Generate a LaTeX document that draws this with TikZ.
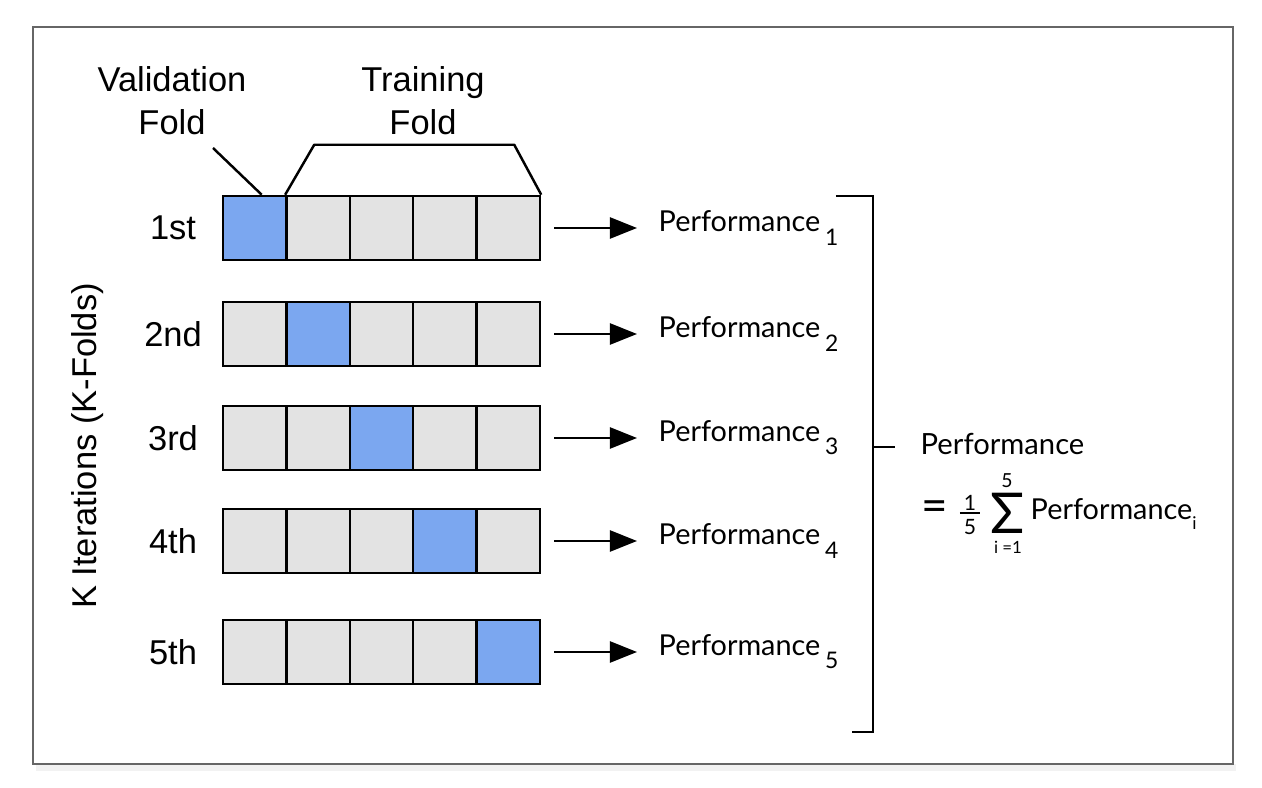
\documentclass[tikz,border=0pt]{standalone}
\usepackage{fontspec}
\setmainfont{Liberation Sans}
\newfontfamily\perffont{Lato}
\usetikzlibrary{arrows.meta}

\definecolor{valblue}{RGB}{123,167,240}
\definecolor{traingray}{RGB}{227,227,227}
\definecolor{framegray}{RGB}{102,102,102}

\tikzset{
	cell/.style={draw=black, line width=0.7pt, fill=traingray, minimum width=0.634cm, minimum height=0.64cm, inner sep=0pt},
	lbl/.style={font=\fontsize{9.8}{12.2}\selectfont, inner sep=0pt},
	perf/.style={font=\perffont\fontsize{8.2}{10}\selectfont, inner sep=0pt, anchor=west},
	tiny num/.style={font=\perffont\fontsize{6}{6}\selectfont, inner sep=0pt},
	res/.style={line width=0.7pt, -{Triangle[length=0.27cm, width=0.21cm]}, shorten <=0.13cm, shorten >=0.21cm},
}

\begin{document}
\begin{tikzpicture}[x=0.01cm, y=-0.01cm]
			\useasboundingbox (0,0) rectangle (1262,788);
			\fill [black!5] (36,764) rectangle (1236,771);
			\draw [framegray, line width=0.6pt, fill=white] (33,27) rectangle (1233,764);
			% the five iterations
			\foreach \r/\name/\y in {1/1st/228, 2/2nd/334, 3/3rd/438, 4/4th/541, 5/5th/652} {
				\node [lbl] (k\r) at (173,\y) {\name};
				\foreach \c in {1,...,5} {
					\ifnum\c=\r \def\fc{valblue}\else\def\fc{traingray}\fi
					\node [cell, fill=\fc] (c\r\c) at ({191.3+63.4*\c},\y) {};
				}
				\node [perf] (p\r) at (658,\y) {Performance\,\raisebox{-0.9ex}{\fontsize{6.5}{7}\selectfont\r}};
				\draw [res] (c\r5.east) -- (p\r.west);
			}
			% fold labels
			\node [lbl, align=center] (vfold) at (172,101) {Validation\\Fold};
			\node [lbl, align=center] (tfold) at (423,101) {Training\\Fold};
			\coordinate (vtip) at (213,148);
			\draw [line width=0.7pt] (vtip) -- ([xshift=0.07cm]c11.north);
			\draw [line width=0.7pt, line join=round] (c15.north east) -- ++(-27,-50) -- ++(-200,0) -- (c12.north west);
			\node [lbl, rotate=90] (kit) at (88,446) {K Iterations (K-Folds)};
			% bracket and average
			\coordinate (bt) at (836,196);
			\coordinate (bb) at (852,732);
			\coordinate (bm) at (873,447);
			\draw [line width=0.7pt] (bt) -| (873,732) -- (bb);
			\draw [line width=0.7pt] (bm) -- ++(22,0);
			\node [perf, font=\perffont\fontsize{8.3}{10}\selectfont] (ptot) at (920,444) {Performance};
			\node [perf, font=\perffont\fontsize{13}{13}\selectfont] (eq) at (921,511) {=};
			\node [tiny num] (one) at (970,503) {1};
			\node [tiny num] (five) at (970,527) {5};
			\draw [line width=0.4pt] (960,513) -- (980,513);
			\node [inner sep=0pt, text depth=0pt, font=\perffont\fontsize{16}{16}\selectfont] (sum) at (1008,513) {Σ};
			\node [tiny num, font=\perffont\fontsize{5.5}{6}\selectfont] (top) at (1007,481) {5};
			\node [tiny num, font=\perffont\fontsize{4.8}{5}\selectfont] (bot) at (1008,547) {i =1};
			\node [perf] (pavg) at (1030,514) {Performance\raisebox{-0.7ex}{\fontsize{5}{6}\selectfont i}};
		\end{tikzpicture}
\end{document}
